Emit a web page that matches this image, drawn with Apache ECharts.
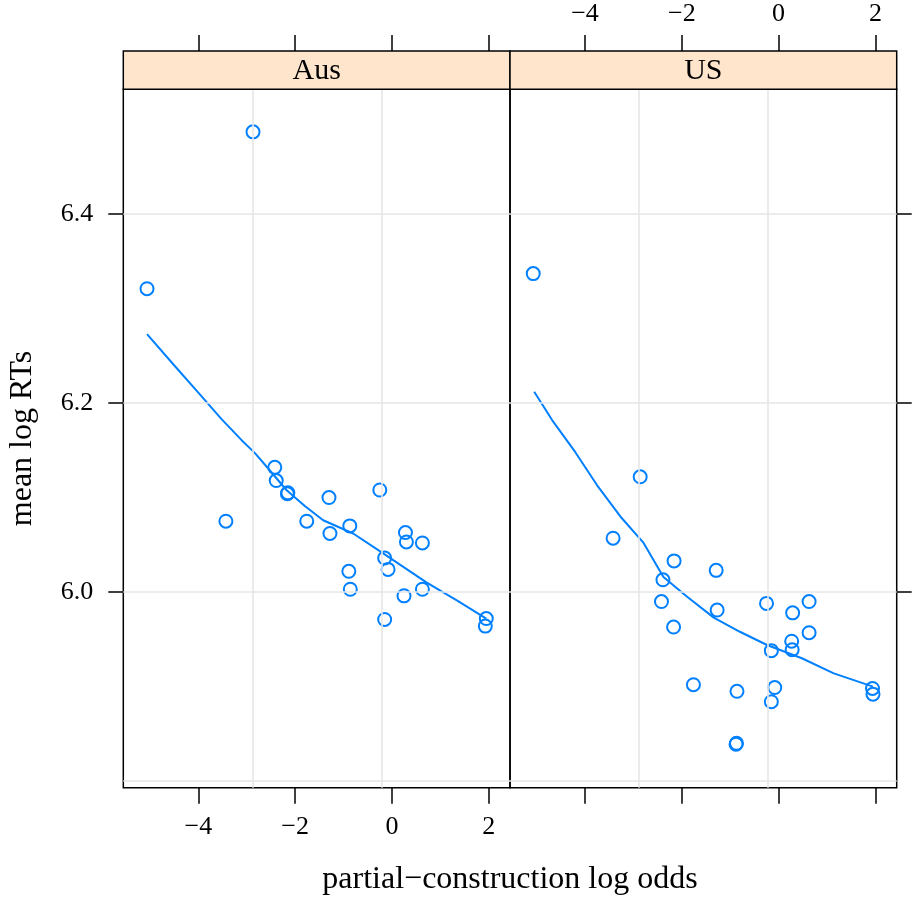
<!DOCTYPE html>
<html>
<head>
<meta charset="utf-8">
<title>mean log RTs by partial-construction log odds</title>
<script src="https://cdn.jsdelivr.net/npm/echarts@6/dist/echarts.min.js"></script>
<style>
  html, body { margin: 0; padding: 0; background: #ffffff; }
  #chart { width: 915px; height: 898px; }
</style>
</head>
<body>
<div id="chart"></div>
<script>
// Panel names (strip labels)
const panelNames = ['Aus', 'US'];

// Aus: per-item partial-construction log odds and mean log RT
const ausX = [-5.06, -3.43, -2.87, -2.42, -2.39, -2.16, -2.15, -1.76, -1.30, -1.28, -0.87, -0.89,
              -0.86, -0.25, -0.15, -0.08, 0.28, 0.30, 0.63, 0.25, 0.63, -0.15, 1.95, 1.93];
const ausY = [6.321, 6.075, 6.487, 6.132, 6.118, 6.104, 6.105, 6.075, 6.100, 6.062, 6.070, 6.022,
              6.003, 6.108, 6.036, 6.024, 6.063, 6.053, 6.052, 5.996, 6.003, 5.971, 5.972, 5.964];

// US: per-item partial-construction log odds and mean log RT
const usX = [-5.07, -3.42, -2.86, -2.42, -2.39, -2.16, -2.17, -1.76, -1.29, -1.27, -0.86, -0.88,
             -0.87, -0.25, -0.15, -0.15, -0.08, 0.27, 0.28, 0.29, 0.63, 0.63, 1.94, 1.95];
const usY = [6.337, 6.057, 6.122, 5.990, 6.013, 6.033, 5.963, 5.902, 6.023, 5.981, 5.895, 5.839,
             5.840, 5.988, 5.938, 5.884, 5.899, 5.948, 5.939, 5.978, 5.990, 5.957, 5.898, 5.892];

// Loess smooth for each panel
const ausFitX = [-5.06, -4.5, -4.0, -3.52, -3.11, -2.83, -2.56, -2.18, -1.80, -1.42, -0.80, -0.18, 0.72, 1.35, 1.95];
const ausFitY = [6.273, 6.240, 6.211, 6.183, 6.161, 6.147, 6.131, 6.108, 6.091, 6.076, 6.062, 6.041, 6.010, 5.991, 5.972];
const usFitX = [-5.05, -4.68, -4.2, -3.75, -3.27, -2.79, -2.38, -1.89, -1.34, -0.80, -0.24, 0.48, 1.14, 1.95];
const usFitY = [6.212, 6.182, 6.148, 6.113, 6.080, 6.052, 6.016, 5.995, 5.973, 5.958, 5.944, 5.930, 5.914, 5.900];

// Axis ticks, reference grid lines and ranges
const xTicks = [-4, -2, 0, 2];
const yTicks = [6.0, 6.2, 6.4];
const gridX = [-2.88, -0.22];
const gridY = [5.8, 6.0, 6.2, 6.4];
const xRange = [-5.55, 2.44];
const yRange = [5.793, 6.532];

const xTitle = 'partial\u2212construction log odds';
const yTitle = 'mean log RTs';

// ---- styling / layout ----
const FONT = '"Liberation Serif", "Times New Roman", serif';
const BLUE = '#0080ff';
const STRIP_FILL = '#ffe5cc';
const GRID_GRAY = '#e6e6e6';
const P = { left: 123.3, top: 89.3, w: 386.7, h: 698.4, strip: 38.3 };

const zip = (xs, ys) => xs.map((x, i) => [x, ys[i]]);
const fmtX = v => String(v).replace('-', '\u2212');

function xAxisDef(gridIndex, position, withLabels) {
  return {
    type: 'value', gridIndex, position,
    min: xRange[0], max: xRange[1],
    offset: position === 'top' ? P.strip : 0,
    axisLine: { show: false, onZero: false },
    splitLine: { show: false },
    axisTick: { show: true, customValues: xTicks, length: 16, inside: false,
                lineStyle: { color: '#000', width: 1.5 } },
    axisLabel: { show: withLabels, customValues: xTicks, formatter: fmtX,
                 margin: position === 'top' ? 24 : 26,
                 fontFamily: FONT, fontSize: 26, color: '#000' }
  };
}

function yAxisDef(gridIndex, position, withLabels) {
  const ax = {
    type: 'value', gridIndex, position,
    min: yRange[0], max: yRange[1],
    axisLine: { show: false, onZero: false },
    splitLine: { show: false },
    axisTick: { show: true, customValues: yTicks, length: 15, inside: false,
                lineStyle: { color: '#000', width: 1.5 } },
    axisLabel: { show: withLabels, customValues: yTicks, formatter: v => v.toFixed(1),
                 margin: 30, fontFamily: FONT, fontSize: 26, color: '#000' }
  };
  if (withLabels) {
    ax.name = yTitle;
    ax.nameLocation = 'middle';
    ax.nameGap = 85;
    ax.nameTextStyle = { fontFamily: FONT, fontSize: 32, color: '#000' };
  }
  return ax;
}

function gridDef(i) {
  return { left: P.left + i * P.w, top: P.top, width: P.w, height: P.h,
           show: true, borderColor: '#000', borderWidth: 1.5, backgroundColor: 'transparent' };
}

function refLines(xi, yi) {
  return {
    type: 'scatter', xAxisIndex: xi, yAxisIndex: yi, data: [], z: 1, silent: true,
    markLine: {
      silent: true, symbol: 'none', animation: false,
      label: { show: false },
      emphasis: { disabled: true },
      lineStyle: { color: GRID_GRAY, width: 1.6, type: 'solid', opacity: 1 },
      data: gridX.map(v => ({ xAxis: v })).concat(gridY.map(v => ({ yAxis: v })))
    }
  };
}

function points(xi, yi, xs, ys) {
  return {
    type: 'scatter', xAxisIndex: xi, yAxisIndex: yi, z: 3,
    symbol: 'circle', symbolSize: 13,
    itemStyle: { color: 'rgba(255,255,255,0)', borderColor: BLUE, borderWidth: 2, opacity: 1 },
    data: zip(xs, ys)
  };
}

function smooth(xi, yi, xs, ys) {
  return {
    type: 'line', xAxisIndex: xi, yAxisIndex: yi, z: 2,
    showSymbol: false, smooth: false,
    lineStyle: { color: BLUE, width: 2 },
    data: zip(xs, ys)
  };
}

function stripGraphics() {
  const out = [];
  panelNames.forEach((name, i) => {
    const x0 = P.left + i * P.w;
    out.push({
      type: 'rect', z: 10,
      shape: { x: x0, y: P.top - P.strip, width: P.w, height: P.strip },
      style: { fill: STRIP_FILL, stroke: '#000', lineWidth: 1.5 }
    });
    out.push({
      type: 'text', z: 11,
      x: x0 + P.w / 2, y: P.top - P.strip / 2 + 1,
      style: { text: name, fontFamily: FONT, fontSize: 30, fill: '#000',
               align: 'center', verticalAlign: 'middle' }
    });
  });
  out.push({
    type: 'text', z: 11,
    x: P.left + P.w, y: 880,
    style: { text: xTitle, fontFamily: FONT, fontSize: 32, fill: '#000',
             align: 'center', verticalAlign: 'middle' }
  });
  return out;
}

const chart = echarts.init(document.getElementById('chart'), null, { renderer: 'canvas' });
chart.setOption({
  animation: false,
  backgroundColor: '#ffffff',
  grid: [gridDef(0), gridDef(1)],
  xAxis: [
    xAxisDef(0, 'bottom', true),
    xAxisDef(0, 'top', false),
    xAxisDef(1, 'top', true),
    xAxisDef(1, 'bottom', false)
  ],
  yAxis: [
    yAxisDef(0, 'left', true),
    yAxisDef(1, 'right', false)
  ],
  series: [
    refLines(0, 0),
    refLines(2, 1),
    smooth(0, 0, ausFitX, ausFitY),
    points(0, 0, ausX, ausY),
    smooth(2, 1, usFitX, usFitY),
    points(2, 1, usX, usY)
  ],
  graphic: stripGraphics()
});
</script>
</body>
</html>
